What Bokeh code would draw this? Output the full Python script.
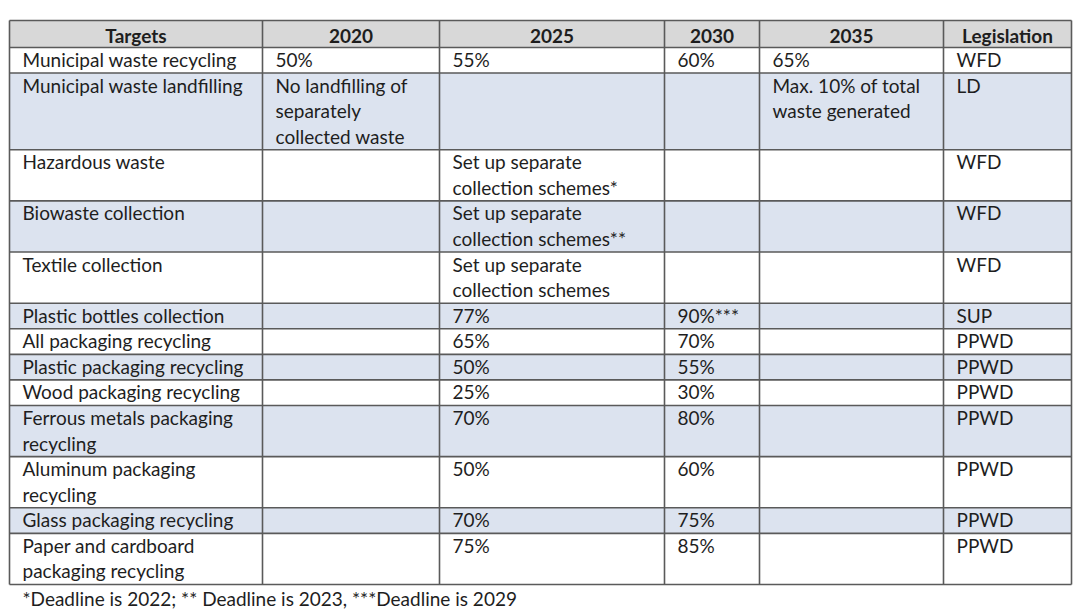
import textwrap
from bokeh.plotting import figure
from bokeh.models import Range1d, ColumnDataSource
from bokeh.core.properties import value
from bokeh.embed import file_html
from bokeh.resources import INLINE

# ---------------- data ----------------
headers = ["Targets", "2020", "2025", "2030", "2035", "Legislation"]
targets = [
    "Municipal waste recycling", "Municipal waste landfilling", "Hazardous waste",
    "Biowaste collection", "Textile collection", "Plastic bottles collection",
    "All packaging recycling", "Plastic packaging recycling", "Wood packaging recycling",
    "Ferrous metals packaging recycling", "Aluminum packaging recycling",
    "Glass packaging recycling", "Paper and cardboard packaging recycling",
]
t2020 = ["50%", "No landfilling of separately collected waste", "", "", "", "", "", "", "", "", "", "", ""]
t2025 = ["55%", "", "Set up separate collection schemes*", "Set up separate collection schemes**",
         "Set up separate collection schemes", "77%", "65%", "50%", "25%", "70%", "50%", "70%", "75%"]
t2030 = ["60%", "", "", "", "", "90%***", "70%", "55%", "30%", "80%", "60%", "75%", "85%"]
t2035 = ["65%", "Max. 10% of total waste generated", "", "", "", "", "", "", "", "", "", "", ""]
legislation = ["WFD", "LD", "WFD", "WFD", "WFD", "SUP", "PPWD", "PPWD", "PPWD", "PPWD", "PPWD", "PPWD", "PPWD"]
footnote = "*Deadline is 2022; ** Deadline is 2023, ***Deadline is 2029"

columns = [targets, t2020, t2025, t2030, t2035, legislation]

# ---------------- layout ----------------
W, H = 1080, 612
edges = [9, 262, 439, 664, 759, 943, 1071]
wrap_chars = [27, 17, 22, 10, 18, 12]
table_top = 20
header_h = 27
line_h = 25.57
pad_x = 13
mid_off = 12
FONT = "Lato"
FS = "19px"
TEXT_COL = "#1e1e1e"
GRID_COL = "#5a5a5a"
HEAD_FILL = "#d8d8d8"
BAND_FILL = "#dce3ef"

p = figure(width=W, height=H, output_backend="svg", toolbar_location=None,
           x_range=Range1d(0, W), y_range=Range1d(H, 0),
           min_border=0, outline_line_color=None)
p.axis.visible = False
p.grid.visible = False

# wrap cells
wrapped = [[textwrap.wrap(c[i], wrap_chars[j]) if c[i] else [] for j, c in enumerate(columns)]
           for i in range(len(targets))]
nlines = [max(1, max(len(w) for w in row)) for row in wrapped]

row_tops = [table_top + header_h]
for n in nlines:
    row_tops.append(row_tops[-1] + n * line_h)
table_bottom = row_tops[-1]

# backgrounds
q = dict(left=[], right=[], top=[], bottom=[], color=[])
q["left"].append(edges[0]); q["right"].append(edges[-1])
q["top"].append(table_top); q["bottom"].append(table_top + header_h); q["color"].append(HEAD_FILL)
for i in range(len(targets)):
    q["left"].append(edges[0]); q["right"].append(edges[-1])
    q["top"].append(row_tops[i]); q["bottom"].append(row_tops[i + 1])
    q["color"].append(BAND_FILL if i % 2 == 1 else "white")
p.quad(left="left", right="right", top="top", bottom="bottom", fill_color="color",
       line_color=None, source=ColumnDataSource(q))

# grid lines
xs, ys = [], []
for x in edges:
    xs.append([x, x]); ys.append([table_top, table_bottom])
for y in [table_top] + row_tops:
    xs.append([edges[0], edges[-1]]); ys.append([y, y])
p.multi_line(xs=xs, ys=ys, line_color=GRID_COL, line_width=1.6)

# header text
hx = [(edges[j] + edges[j + 1]) / 2 for j in range(len(headers))]
hy = [table_top + header_h / 2 + 1.5] * len(headers)
p.text(x=hx, y=hy, text=headers, text_font=value(FONT), text_font_size=FS,
       text_font_style="bold", text_align="center", text_baseline="middle", text_color=TEXT_COL)

# cell text
tx, ty, tt = [], [], []
for i, row in enumerate(wrapped):
    for j, lines in enumerate(row):
        for k, ln in enumerate(lines):
            tx.append(edges[j] + pad_x)
            ty.append(row_tops[i] + mid_off + k * line_h)
            tt.append(ln)
p.text(x=tx, y=ty, text=tt, text_font=value(FONT), text_font_size=FS,
       text_align="left", text_baseline="middle", text_color=TEXT_COL)

# footnote
p.text(x=[edges[0] + 13], y=[table_bottom + 14], text=[footnote], text_font=value(FONT),
       text_font_size=FS, text_align="left", text_baseline="middle", text_color=TEXT_COL)

open("out.html", "w").write(file_html(p, INLINE))
